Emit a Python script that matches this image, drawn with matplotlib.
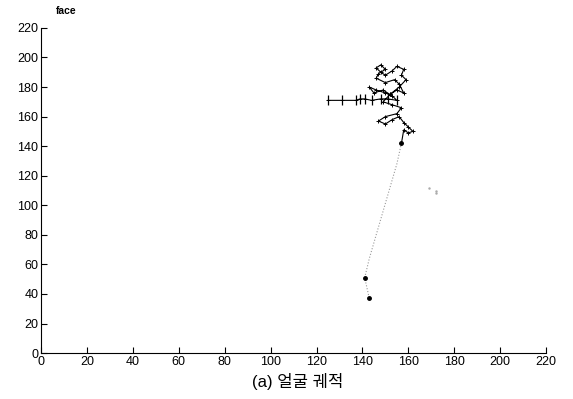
import matplotlib.pyplot as plt

plt.rcParams['font.family'] = ['Liberation Sans', 'Noto Sans CJK KR', 'DejaVu Sans']

# face trajectory (x, y), dense part near the top
path_x = [125, 131, 137, 139, 141, 144, 148, 151, 155, 153, 150, 146, 143, 145,
          149, 152, 155, 158, 156, 154, 150, 146, 147, 150, 148, 146, 148, 150,
          153, 155, 158, 157, 159, 156, 152, 149, 153, 157, 155, 150, 147, 150,
          153, 156, 158, 160, 162, 160, 158, 157]
path_y = [171, 171, 171, 172, 172, 171, 172, 172, 171, 174, 176, 178, 180, 176,
          178, 175, 178, 176, 182, 185, 183, 186, 189, 192, 195, 193, 190, 188,
          191, 194, 192, 188, 185, 180, 175, 170, 168, 166, 162, 160, 157, 155,
          158, 160, 156, 153, 150, 149, 151, 142]

# descending tail
tail_x = [157, 155, 152, 149, 146, 143, 141, 142, 143]
tail_y = [142, 128, 112, 96, 80, 64, 51, 44, 37]

# stray points
stray_x = [169, 172, 172]
stray_y = [112, 110, 108]

fig = plt.figure(figsize=(5.73, 3.99), dpi=100)
ax = fig.add_axes([0.0716, 0.115, 0.8814, 0.815])

ax.plot(path_x, path_y, color='black', lw=0.8, marker='+', ms=3.5, mew=0.7)
ax.plot(path_x[:9], path_y[:9], ls='none', marker='|', ms=7, mew=0.9, color='black')
ax.plot(tail_x, tail_y, color='#999999', lw=0.8, ls=':')
ax.plot([tail_x[0], tail_x[6], tail_x[8]], [tail_y[0], tail_y[6], tail_y[8]],
        ls='none', marker='o', ms=2.5, color='black')
ax.plot(stray_x, stray_y, ls='none', marker='.', ms=1.5, color='#aaaaaa')

ax.set_xlim(0, 220)
ax.set_ylim(0, 220)
ax.set_xticks(range(0, 221, 20))
ax.set_yticks(range(0, 221, 20))
ax.tick_params(direction='in', length=4, labelsize=9, width=0.8, pad=2)
ax.spines['top'].set_visible(False)
ax.spines['right'].set_visible(False)

fig.text(0.098, 0.972, 'face', fontsize=7.5, fontweight='bold', ha='left', va='center')
fig.text(0.52, 0.045, '(a) 얼굴 궤적', fontsize=12, ha='center', va='center')

fig.savefig('out.png', dpi=100)
